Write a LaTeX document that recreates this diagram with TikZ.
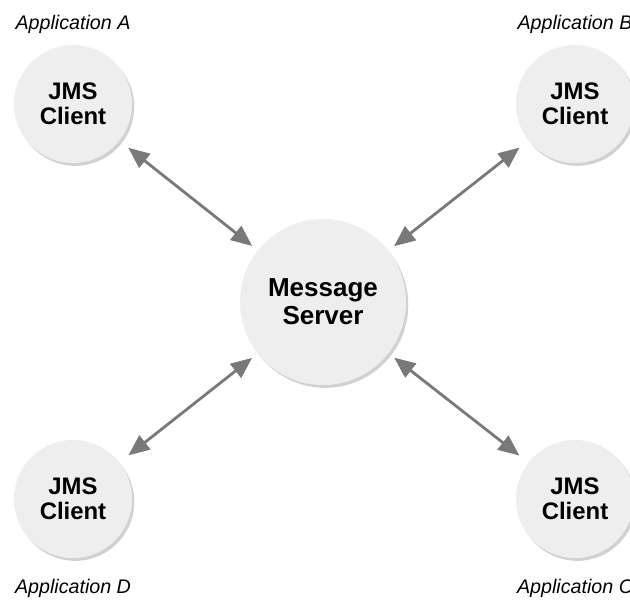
\documentclass[tikz,border=0pt]{standalone}
\usepackage{fontspec}
\usepackage{tikz}
\usetikzlibrary{arrows.meta,positioning,shadows}
\newfontfamily\appfont{Liberation Sans}

\tikzset{
	ball/.style={circle,fill=gray!13,inner sep=0pt,align=center,
		drop shadow={shadow xshift=1.6pt,shadow yshift=-2pt,fill=gray!80,opacity=0.45},
		font=\appfont\bfseries\fontsize{17}{17.8}\selectfont},
	client/.style={ball,minimum size=2.95cm},
	server/.style={ball,minimum size=4.15cm,font=\appfont\bfseries\fontsize{18.5}{20}\selectfont},
	applabel/.style={inner sep=0pt,font=\appfont\itshape\fontsize{14}{15}\selectfont},
	link/.style={draw=gray!95!black,line width=2pt,{Triangle[length=15pt,width=12.5pt]}-{Triangle[length=15pt,width=12.5pt]}}
}

\begin{document}
\begin{tikzpicture}[x=0.025cm,y=-0.025cm]
		\useasboundingbox (0,0) rectangle (630,601);
		\node[server] (srv) at (323,302) {Message\\Server};
		\node[client] (cA) at (73,104) {JMS\\Client};
		\node[client] (cB) at (575,104) {JMS\\Client};
		\node[client] (cC) at (575,499) {JMS\\Client};
		\node[client] (cD) at (73,499) {JMS\\Client};
		\node[applabel,above=8pt of cA] (appA) {Application A};
		\node[applabel,above=8pt of cB] (appB) {Application B};
		\node[applabel,below=15pt of cC] (appC) {Application C};
		\node[applabel,below=15pt of cD] (appD) {Application D};
		\draw[link,shorten <=8pt,shorten >=5pt] (cA) -- (srv);
		\draw[link,shorten <=8pt,shorten >=5pt] (cB) -- (srv);
		\draw[link,shorten <=8pt,shorten >=5pt] (cC) -- (srv);
		\draw[link,shorten <=8pt,shorten >=5pt] (cD) -- (srv);
		\end{tikzpicture}
\end{document}
